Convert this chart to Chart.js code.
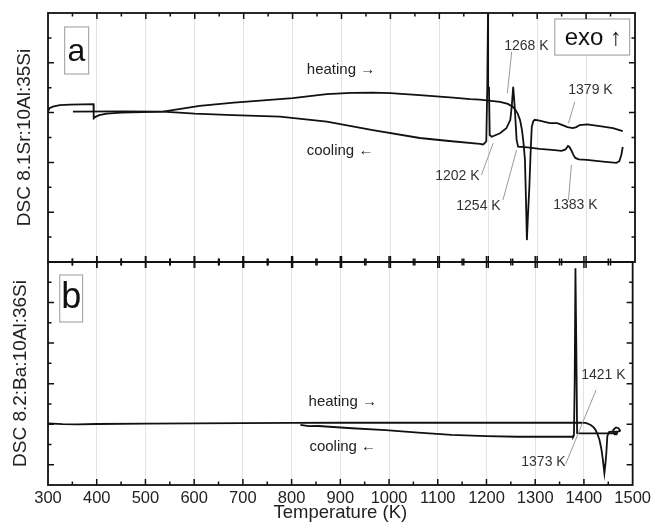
<!DOCTYPE html>
<html>
<head>
<meta charset="utf-8">
<script src="https://cdn.jsdelivr.net/npm/chart.js@4.4.0/dist/chart.umd.min.js"></script>
<style>
  html, body { margin: 0; padding: 0; background: #fff; }
  #wrap { position: relative; width: 655px; height: 523px; overflow: hidden; }
  #wrap canvas { position: absolute; left: 0; }
  #panelA { top: 0; }
  #panelB { top: 250px; }
</style>
</head>
<body>
<div id="wrap">
  <canvas id="panelA" width="655" height="280"></canvas>
  <canvas id="panelB" width="655" height="273"></canvas>
</div>
<script>
// temperatures in K, DSC signal in arbitrary units (exo up)
const heatA_T = [300, 303, 310, 324, 345, 393, 393.5, 397, 405, 420, 450, 535, 610, 680, 747, 800, 870, 920, 964, 1000, 1060, 1128, 1163, 1183, 1224, 1240, 1250, 1255, 1260, 1265, 1269, 1272, 1275, 1277, 1279, 1281, 1284, 1287, 1289, 1292, 1295, 1305, 1326, 1341, 1352, 1362, 1373, 1380, 1387, 1402, 1428, 1455, 1475];
const heatA_v = [6.04, 6.18, 6.24, 6.30, 6.32, 6.34, 5.77, 5.83, 5.90, 5.96, 6.00, 6.04, 6.27, 6.40, 6.50, 6.58, 6.74, 6.79, 6.80, 6.78, 6.70, 6.60, 6.54, 6.52, 6.43, 6.35, 6.24, 6.12, 5.97, 5.70, 5.30, 4.80, 4.10, 2.60, 0.88, 1.80, 3.00, 4.60, 5.43, 5.65, 5.71, 5.68, 5.58, 5.58, 5.50, 5.42, 5.38, 5.42, 5.50, 5.53, 5.46, 5.38, 5.26];

const coolA_T = [1475, 1472, 1468, 1462, 1440, 1420, 1402, 1385, 1378, 1374, 1370, 1366, 1363, 1358, 1350, 1330, 1305, 1280, 1261, 1258, 1254, 1251, 1248, 1245, 1237, 1224, 1207, 1203, 1201.5, 1199.8, 1198, 1196, 1192, 1189, 1183, 1120, 1060, 964, 870, 774, 678, 600, 535, 450, 351];
const coolA_v = [4.62, 4.30, 4.05, 3.98, 4.02, 4.06, 4.10, 4.12, 4.18, 4.30, 4.48, 4.62, 4.66, 4.52, 4.46, 4.50, 4.54, 4.60, 4.63, 4.90, 6.24, 7.04, 6.24, 5.70, 5.37, 5.17, 5.03, 5.10, 7.00, 10.6, 7.00, 4.85, 4.76, 4.72, 4.74, 4.86, 4.98, 5.30, 5.64, 5.84, 5.90, 5.96, 6.04, 6.05, 6.04];

const heatB_T = [300, 330, 360, 400, 500, 600, 700, 800, 900, 1000, 1200, 1393, 1404, 1414, 1420, 1424, 1428, 1432, 1436, 1439, 1442, 1444, 1446, 1448, 1451, 1455, 1462, 1470, 1475];
const heatB_v = [3.04, 3.00, 2.99, 3.01, 3.03, 3.04, 3.05, 3.06, 3.07, 3.07, 3.07, 3.07, 3.06, 2.96, 2.84, 2.71, 2.50, 2.22, 1.75, 1.23, 0.58, 1.00, 1.58, 2.40, 2.60, 2.63, 2.62, 2.64, 2.66];

const coolB_T = [1475, 1471, 1466, 1461, 1460, 1463, 1467, 1468, 1462, 1450, 1420, 1395, 1386, 1384.5, 1382.6, 1381, 1379.5, 1378, 1367, 1300, 1264, 1200, 1128, 1060, 993, 924, 855, 835, 818];
const coolB_v = [2.66, 2.80, 2.84, 2.74, 2.60, 2.50, 2.50, 2.57, 2.56, 2.55, 2.55, 2.55, 2.56, 6.50, 10.69, 5.00, 2.45, 2.38, 2.38, 2.38, 2.38, 2.41, 2.47, 2.58, 2.71, 2.80, 2.91, 2.90, 2.97];

const xTicks = { min: 300, max: 1500, step: 50, labelEvery: 100 };

const FONT = '"Liberation Sans", Arial, sans-serif';
Chart.defaults.font.family = FONT;
Chart.defaults.color = '#222';

const pts = (xs, ys) => xs.map((x, i) => ({ x, y: ys[i] }));

const lineStyle = {
  borderColor: '#111',
  borderWidth: 1.8,
  pointRadius: 0,
  tension: 0,
  fill: false
};

// frame + inward ticks on all four sides
const frameTicks = {
  id: 'frameTicks',
  afterDraw(chart, args, opts) {
    const { ctx, chartArea: a } = chart;
    const x = chart.scales.x, y = chart.scales.y;
    ctx.save();
    ctx.strokeStyle = '#111';
    ctx.lineWidth = 1.5;
    ctx.beginPath();
    x.ticks.forEach(t => {
      if (t.value <= x.min || t.value >= x.max) return;
      const px = x.getPixelForValue(t.value);
      const len = t.value % 100 === 0 ? 6 : 3.5;
      ctx.moveTo(px, a.top - (opts.outTop ? len : 0));
      ctx.lineTo(px, a.top + len);
      ctx.moveTo(px, a.bottom + (opts.outBottom ? len : 0));
      ctx.lineTo(px, a.bottom - len);
    });
    y.ticks.forEach(t => {
      if (t.value <= y.min || t.value >= y.max) return;
      const py = y.getPixelForValue(t.value);
      const len = (t.value % 2 === opts.majorParity) ? 6 : 3.5;
      ctx.moveTo(a.left, py);
      ctx.lineTo(a.left + len, py);
      ctx.moveTo(a.right, py);
      ctx.lineTo(a.right - len, py);
    });
    ctx.stroke();
    ctx.lineWidth = 1.8;
    ctx.strokeRect(a.left, a.top, a.right - a.left, a.bottom - a.top);
    ctx.restore();
  }
};

// annotation texts, pointer lines and boxes, placed in data coordinates
const notes = {
  id: 'notes',
  afterDatasetsDraw(chart, args, opts) {
    const { ctx } = chart;
    const x = chart.scales.x, y = chart.scales.y;
    ctx.save();
    ctx.strokeStyle = '#9a9a9a';
    ctx.lineWidth = 1;
    (opts.pointers || []).forEach(p => {
      ctx.beginPath();
      ctx.moveTo(x.getPixelForValue(p[0]), y.getPixelForValue(p[1]));
      ctx.lineTo(x.getPixelForValue(p[2]), y.getPixelForValue(p[3]));
      ctx.stroke();
    });
    ctx.strokeStyle = '#aaaaaa';
    ctx.lineWidth = 1.2;
    (opts.boxes || []).forEach(b => {
      const x1 = x.getPixelForValue(b[0]), y1 = y.getPixelForValue(b[1]);
      const x2 = x.getPixelForValue(b[2]), y2 = y.getPixelForValue(b[3]);
      ctx.fillStyle = '#fff';
      ctx.fillRect(x1, y1, x2 - x1, y2 - y1);
      ctx.strokeRect(x1, y1, x2 - x1, y2 - y1);
    });
    ctx.textAlign = 'center';
    ctx.textBaseline = 'middle';
    (opts.texts || []).forEach(t => {
      ctx.font = t.size + 'px ' + FONT;
      ctx.fillStyle = t.color || '#333';
      ctx.fillText(t.text, x.getPixelForValue(t.x), y.getPixelForValue(t.y));
    });
    ctx.restore();
  }
};

const gridColor = c => (c.tick && c.tick.value % xTicks.labelEvery === 0) ? '#e3e3e3' : 'rgba(0,0,0,0)';

new Chart(document.getElementById('panelA'), {
  type: 'line',
  data: {
    datasets: [
      { label: 'heating', data: pts(heatA_T, heatA_v), ...lineStyle },
      { label: 'cooling', data: pts(coolA_T, coolA_v), ...lineStyle }
    ]
  },
  options: {
    responsive: false,
    animation: false,
    events: [],
    layout: { padding: { top: 13, right: 20, left: 0, bottom: 0 } },
    plugins: {
      legend: { display: false },
      tooltip: { enabled: false },
      frameTicks: { majorParity: 0, outTop: false, outBottom: true },
      notes: {
        pointers: [
          [1248, 8.45, 1239, 6.78],
          [1230, 2.49, 1258, 4.5],
          [1186, 3.49, 1210, 4.77],
          [1377, 6.44, 1364, 5.57],
          [1364, 2.49, 1370, 3.9]
        ],
        boxes: [
          [334, 9.44, 383, 7.55],
          [1336, 9.76, 1489, 8.31]
        ],
        texts: [
          { text: 'a', x: 358, y: 8.41, size: 32, color: '#111' },
          { text: 'exo \u2191', x: 1415, y: 8.98, size: 24, color: '#111' },
          { text: 'heating \u2192', x: 899, y: 7.71, size: 15, color: '#222' },
          { text: 'cooling \u2190', x: 897, y: 4.47, size: 15, color: '#222' },
          { text: '1268 K', x: 1278, y: 8.66, size: 14 },
          { text: '1202 K', x: 1137, y: 3.44, size: 14 },
          { text: '1254 K', x: 1180, y: 2.24, size: 14 },
          { text: '1379 K', x: 1409, y: 6.9, size: 14 },
          { text: '1383 K', x: 1378, y: 2.28, size: 14 }
        ]
      }
    },
    scales: {
      x: {
        type: 'linear',
        min: xTicks.min,
        max: xTicks.max,
        afterFit: s => { s.height = 18; },
        ticks: { display: false, stepSize: xTicks.step },
        grid: { color: gridColor, drawTicks: false },
        border: { display: false }
      },
      y: {
        min: 0,
        max: 10,
        afterFit: s => { s.width = 48; },
        ticks: { display: false, stepSize: 1 },
        grid: { display: false },
        border: { display: false },
        title: {
          display: true,
          text: 'DSC 8.1Sr:10Al:35Si',
          color: '#222',
          font: { size: 19, lineHeight: 1 },
          padding: { top: 15.5, bottom: 0 }
        }
      }
    }
  },
  plugins: [frameTicks, notes]
});

new Chart(document.getElementById('panelB'), {
  type: 'line',
  data: {
    datasets: [
      { label: 'heating', data: pts(heatB_T, heatB_v), ...lineStyle },
      { label: 'cooling', data: pts(coolB_T, coolB_v), ...lineStyle }
    ]
  },
  options: {
    responsive: false,
    animation: false,
    events: [],
    layout: { padding: { top: 12, right: 20, left: 0, bottom: 0 } },
    plugins: {
      legend: { display: false },
      tooltip: { enabled: false },
      frameTicks: { majorParity: 1, outTop: true, outBottom: false },
      notes: {
        pointers: [
          [1425, 4.69, 1362.6, 1.04]
        ],
        boxes: [
          [324, 10.36, 371, 8.04]
        ],
        texts: [
          { text: 'b', x: 347.5, y: 9.24, size: 36, color: '#111' },
          { text: 'heating \u2192', x: 905, y: 4.12, size: 15, color: '#222' },
          { text: 'cooling \u2190', x: 905, y: 1.9, size: 15, color: '#222' },
          { text: '1421 K', x: 1440, y: 5.41, size: 14 },
          { text: '1373 K', x: 1317, y: 1.13, size: 14 }
        ]
      }
    },
    scales: {
      x: {
        type: 'linear',
        min: xTicks.min,
        max: xTicks.max,
        afterFit: s => { s.height = 38; },
        ticks: {
          stepSize: xTicks.step,
          autoSkip: false,
          maxRotation: 0,
          padding: 4,
          color: '#222',
          font: { size: 16.5, lineHeight: 1.2 },
          callback: v => (v % xTicks.labelEvery === 0 ? v : '')
        },
        grid: { color: gridColor, drawTicks: false },
        border: { display: false },
        title: {
          display: true,
          text: 'Temperature (K)',
          color: '#222',
          font: { size: 18.5, lineHeight: 1 },
          padding: { top: 0, bottom: 0.5 }
        }
      },
      y: {
        min: 0,
        max: 11,
        afterFit: s => { s.width = 48; },
        ticks: { display: false, stepSize: 1 },
        grid: { display: false },
        border: { display: false },
        title: {
          display: true,
          text: 'DSC 8.2:Ba:10Al:36Si',
          color: '#222',
          font: { size: 19, lineHeight: 1 },
          padding: { top: 11.5, bottom: 0 }
        }
      }
    }
  },
  plugins: [frameTicks, notes]
});
</script>
</body>
</html>
